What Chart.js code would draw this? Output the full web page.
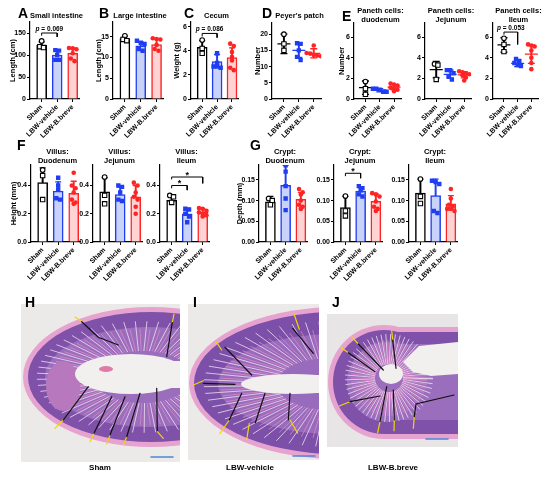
<!DOCTYPE html>
<html>
<head>
<meta charset="utf-8">
<script src="https://cdn.jsdelivr.net/npm/chart.js@4.4.1/dist/chart.umd.min.js"></script>
<style>
  body { margin: 0; background: #fff; }
  #fig { position: relative; width: 550px; height: 480px; overflow: hidden; font-family: "Liberation Sans", Arial, sans-serif; }
  #fig canvas { position: absolute; }
  .lbl { position: absolute; font-weight: bold; color: #000; white-space: nowrap; }
  .letter { font-size: 14px; line-height: 14px; }
  .ttl { font-size: 7.5px; line-height: 9px; text-align: center; transform: translateX(-50%); }
  .cap { font-size: 8px; line-height: 8px; transform: translateX(-50%); }
</style>
</head>
<body>
<div id="fig"></div>
<script>
const groups = ['Sham', 'LBW-vehicle', 'LBW-B.breve'];

// A - small intestine length (cm)
const siSham = [132, 119, 117];
const siVehicle = [111, 110, 100, 89, 89];
const siBreve = [116, 115, 113, 104, 92, 86];
const siMean = [122, 100, 104];
const siSD = [8, 10, 12];
const siTicks = [0, 50, 100, 150];
const siSig = [[0, 1, 150, 144, 141, 'p = 0.069']];

// B - large intestine length (cm)
const liSham = [15.2, 14.3, 14.0];
const liVehicle = [14.0, 13.5, 13.2, 12.0, 11.6];
const liBreve = [14.6, 14.4, 14.3, 13.0, 12.0, 11.6];
const liMean = [14.5, 12.8, 13.1];
const liSD = [0.6, 0.9, 1.3];
const liTicks = [0, 5, 10, 15];

// C - cecum weight (g)
const ceSham = [4.9, 4.2, 3.8];
const ceVehicle = [3.8, 3.0, 2.7, 2.7, 2.6];
const ceBreve = [4.6, 4.4, 3.9, 3.5, 3.2, 2.6, 2.4];
const ceMean = [4.3, 3.1, 3.45];
const ceSD = [0.55, 0.6, 0.8];
const ceTicks = [0, 2, 4, 6];
const ceSig = [[0, 1, 5.45, 5.2, 5.1, 'p = 0.086']];

// D - Peyer's patch number
const ppSham = [20, 17, 15];
const ppVehicle = [17.2, 17, 15, 13, 12];
const ppBreve = [16.5, 14.2, 14, 13.6, 13.4, 13.2];
const ppMean = [17, 15, 14.1];
const ppSD = [3, 2.2, 1.4];
const ppTicks = [0, 5, 10, 15, 20];

// E - Paneth cells
const pdSham = [1.7, 1.0, 0.45];
const pdVehicle = [1.0, 1.0, 0.9, 0.7, 0.7];
const pdBreve = [1.5, 1.4, 1.3, 1.1, 1.0, 0.9, 0.75];
const pdMean = [1.1, 0.85, 1.15];
const pdSD = [0.65, 0.15, 0.25];
const pjSham = [3.4, 3.3, 1.9];
const pjVehicle = [2.8, 2.8, 2.5, 2.2, 1.9];
const pjBreve = [2.7, 2.6, 2.5, 2.4, 2.3, 2.1, 1.8];
const pjMean = [2.85, 2.4, 2.35];
const pjSD = [0.8, 0.4, 0.3];
const piSham = [5.9, 5.3, 4.6];
const piVehicle = [3.9, 3.7, 3.5, 3.3, 3.2];
const piBreve = [5.3, 5.2, 5.1, 4.7, 4.0, 3.5, 2.9];
const piMean = [5.25, 3.45, 4.35];
const piSD = [0.7, 0.3, 0.9];
const piSig = [[0, 1, 6.5, 6.25, 5.3, 'p = 0.053']];
const paTicks = [0, 2, 4, 6];

// F - villus height (mm)
const vdSham = [0.51, 0.47, 0.30];
const vdVehicle = [0.455, 0.40, 0.37, 0.31, 0.30];
const vdBreve = [0.49, 0.40, 0.38, 0.35, 0.30, 0.28, 0.27];
const vdMean = [0.42, 0.36, 0.345];
const vdSD = [0.105, 0.065, 0.085];
const vjSham = [0.46, 0.33, 0.27];
const vjVehicle = [0.40, 0.39, 0.35, 0.30, 0.29];
const vjBreve = [0.42, 0.40, 0.35, 0.32, 0.30, 0.25, 0.20];
const vjMean = [0.355, 0.335, 0.32];
const vjSD = [0.1, 0.055, 0.08];
const viSham = [0.33, 0.32, 0.28];
const viVehicle = [0.235, 0.23, 0.20, 0.18, 0.14];
const viBreve = [0.24, 0.235, 0.22, 0.21, 0.20, 0.19, 0.18];
const viMean = [0.295, 0.20, 0.21];
const viSD = [0.028, 0.038, 0.022];
const viSig = [[0, 1, 0.40, 0.38, 0.367, '*'], [0, 2, 0.46, 0.443, 0.415, '*']];
const vTicks = [0, 0.2, 0.4];

// G - crypt depth (mm)
const cdSham = [0.105, 0.10, 0.09];
const cdVehicle = [0.185, 0.17, 0.135, 0.105, 0.077];
const cdBreve = [0.128, 0.12, 0.115, 0.10, 0.09, 0.085, 0.08];
const cdMean = [0.097, 0.137, 0.103];
const cdSD = [0.013, 0.048, 0.017];
const cjSham = [0.111, 0.075, 0.063];
const cjVehicle = [0.135, 0.13, 0.125, 0.115, 0.11];
const cjBreve = [0.118, 0.115, 0.11, 0.098, 0.085, 0.08, 0.075];
const cjMean = [0.083, 0.123, 0.098];
const cjSD = [0.027, 0.01, 0.018];
const cjSig = [[0, 1, 0.166, 0.159, 0.154, '*']];
const ciSham = [0.152, 0.11, 0.093];
const ciVehicle = [0.148, 0.145, 0.14, 0.075, 0.07];
const ciBreve = [0.128, 0.105, 0.09, 0.085, 0.08, 0.08, 0.075];
const ciMean = [0.118, 0.112, 0.092];
const ciSD = [0.034, 0.04, 0.02];
const cTicks = [0, 0.05, 0.10, 0.15];

const FONT = '"Liberation Sans", Arial, sans-serif';
const LINE = ['#000000', '#1f3df2', '#ff2424'];
const FILL = ['#ffffff', '#c9d2f8', '#ffd3d3'];
const fig = document.getElementById('fig');

function label(cls, text, x, y) {
  const d = document.createElement('div');
  d.className = 'lbl ' + cls;
  d.style.left = x + 'px';
  d.style.top = y + 'px';
  d.innerHTML = text;
  fig.appendChild(d);
}

// side-by-side offsets for points of similar value (scatter dot plot look)
function spread(vals, range) {
  const thr = range * 0.045;
  const idx = vals.map((v, i) => i).sort((a, b) => vals[b] - vals[a]);
  const off = vals.map(() => 0);
  let i = 0;
  while (i < idx.length) {
    let j = i + 1;
    while (j < idx.length && vals[idx[i]] - vals[idx[j]] < thr) j++;
    const n = j - i;
    for (let k = 0; k < n; k++) off[idx[i + k]] = (k - (n - 1) / 2) * 0.24;
    i = j;
  }
  return off;
}

const sigPlugin = {
  id: 'sig',
  afterDatasetsDraw(chart, args, opts) {
    const list = opts.list || [];
    const { ctx } = chart;
    const x = chart.scales.x, y = chart.scales.y;
    ctx.save();
    ctx.fillStyle = '#000';
    ctx.textBaseline = 'bottom';
    list.forEach(s => {
      const xm = (x.getPixelForValue(s[0]) + x.getPixelForValue(s[1])) / 2;
      const yp = y.getPixelForValue(s[2]) - 1;
      if (s[5] === '*') {
        ctx.textAlign = 'center';
        ctx.font = 'bold 9px ' + FONT;
        ctx.fillText('*', xm, yp + 4);
      } else {
        const rest = s[5].slice(1);
        ctx.font = 'italic bold 6.5px ' + FONT;
        const wp = ctx.measureText('p').width;
        ctx.font = 'bold 6.5px ' + FONT;
        const wr = ctx.measureText(rest).width;
        const x0 = xm - (wp + wr) / 2;
        ctx.textAlign = 'left';
        ctx.font = 'italic bold 6.5px ' + FONT;
        ctx.fillText('p', x0, yp);
        ctx.font = 'bold 6.5px ' + FONT;
        ctx.fillText(rest, x0 + wp, yp);
      }
    });
    ctx.restore();
  }
};

function panel(o) {
  const [left, right, top, bottom] = o.box;
  const padTop = 7, padRight = 4, xH = 40;
  const cLeft = o.yTitle ? Math.round(o.titleX - 4.5) : left - 18;
  const yW = left - cLeft;
  const W = yW + (right - left) + padRight;
  const H = padTop + (bottom - top) + xH;
  const cv = document.createElement('canvas');
  cv.width = W; cv.height = H;
  cv.style.left = cLeft + 'px';
  cv.style.top = (top - padTop) + 'px';
  cv.style.width = W + 'px';
  cv.style.height = H + 'px';
  fig.appendChild(cv);

  const ds = [];
  o.pts.forEach((vals, g) => {
    const off = spread(vals, o.yMax);
    const styles = vals.map((v, i) => g === 0 ? (i === 0 ? 'circle' : 'rect') : (g === 1 ? 'rect' : 'circle'));
    ds.push({
      type: 'scatter', order: 0,
      data: vals.map((v, i) => ({ x: g + off[i], y: v })),
      pointStyle: styles,
      pointRadius: styles.map(s => s === 'rect' ? 3.1 : 2.3),
      pointBackgroundColor: g === 0 ? '#ffffff' : LINE[g],
      pointBorderColor: LINE[g],
      pointBorderWidth: g === 0 ? 1.1 : 0
    });
  });
  const hi = o.mean.map((m, g) => m + o.sd[g]);
  const lo = o.mean.map((m, g) => o.bars ? m : m - o.sd[g]);
  ds.push({
    type: 'scatter', order: 1,
    data: hi.map((v, g) => ({ x: g, y: v })),
    pointStyle: 'line', pointRadius: o.bars ? 3 : 3.5,
    pointBorderColor: LINE, pointBorderWidth: 1.3
  });
  if (!o.bars) {
    ds.push({
      type: 'scatter', order: 1,
      data: lo.map((v, g) => ({ x: g, y: v })),
      pointStyle: 'line', pointRadius: 3.5,
      pointBorderColor: LINE, pointBorderWidth: 1.3
    });
    ds.push({
      type: 'scatter', order: 1,
      data: o.mean.map((v, g) => ({ x: g, y: v })),
      pointStyle: 'line', pointRadius: 6.5,
      pointBorderColor: LINE, pointBorderWidth: 1.3
    });
  }
  ds.push({
    type: 'bar', order: 2, grouped: false, barThickness: 1.3,
    data: o.mean.map((m, g) => ({ x: g, y: [lo[g], hi[g]] })),
    backgroundColor: LINE, borderWidth: 0
  });
  if (o.bars) {
    ds.push({
      type: 'bar', order: 3, grouped: false, barThickness: 10,
      data: o.mean.map((m, g) => ({ x: g, y: m })),
      backgroundColor: FILL, borderColor: LINE, borderWidth: 1.5
    });
  }
  (o.sig || []).forEach(s => {
    ds.push({
      type: 'line', order: 0,
      data: [{ x: s[0], y: s[3] }, { x: s[0], y: s[2] }, { x: s[1], y: s[2] }, { x: s[1], y: s[4] }],
      borderColor: '#000', borderWidth: 1, pointRadius: 0, fill: false, tension: 0
    });
  });

  const tickFont = { family: FONT, size: 7, weight: 'bold' };
  new Chart(cv.getContext('2d'), {
    type: 'bar',
    data: { datasets: ds },
    options: {
      responsive: false,
      animation: false,
      events: [],
      layout: { padding: { top: padTop, right: padRight, left: 0, bottom: 0 } },
      plugins: { legend: { display: false }, tooltip: { enabled: false }, sig: { list: o.sig } },
      scales: {
        x: {
          type: 'linear', min: o.bars ? -0.75 : -0.8, max: o.bars ? 2.45 : 2.5, offset: false,
          afterBuildTicks: s => { s.ticks = [0, 1, 2].map(v => ({ value: v })); },
          afterFit: s => { s.height = xH; },
          grid: { display: true, drawOnChartArea: false, drawTicks: true, tickLength: 3, color: '#000', lineWidth: 1, offset: false },
          border: { display: true, color: '#000', width: 1.2 },
          ticks: { autoSkip: false, minRotation: 45, maxRotation: 45, padding: 1, color: '#000', font: tickFont,
                   callback: v => groups[v] }
        },
        y: {
          type: 'linear', min: 0, max: o.yMax,
          afterBuildTicks: s => { s.ticks = o.ticks.map(v => ({ value: v })); },
          afterFit: s => { s.width = yW; },
          grid: { display: true, drawOnChartArea: false, drawTicks: true, tickLength: 3, color: '#000', lineWidth: 1 },
          border: { display: true, color: '#000', width: 1.2 },
          ticks: { padding: 1, color: '#000', font: tickFont, callback: v => v.toFixed(o.dec) },
          title: { display: !!o.yTitle, text: o.yTitle || '', color: '#000', padding: 0,
                   font: { family: FONT, size: 7.5, weight: 'bold' } }
        }
      }
    },
    plugins: [sigPlugin]
  });

  // panel title above the plot
  label('ttl', o.title, (left + right) / 2 + 1, o.titleY);
}

const topRow = [22, 99], midRow = [165, 242];
const PANELS = [
  { box: [30, 81, ...topRow], titleX: 12, yTitle: 'Length (cm)', yMax: 175, dec: 0, ticks: siTicks,
    pts: [siSham, siVehicle, siBreve], mean: siMean, sd: siSD, sig: siSig, bars: true, title: 'Small intestine', titleY: 11 },
  { box: [113, 165, ...topRow], titleX: 98, yTitle: 'Length (cm)', yMax: 18.5, dec: 0, ticks: liTicks,
    pts: [liSham, liVehicle, liBreve], mean: liMean, sd: liSD, bars: true, title: 'Large intestine', titleY: 11 },
  { box: [191, 240, ...topRow], titleX: 176, yTitle: 'Weight (g)', yMax: 6.4, dec: 0, ticks: ceTicks,
    pts: [ceSham, ceVehicle, ceBreve], mean: ceMean, sd: ceSD, sig: ceSig, bars: true, title: 'Cecum', titleY: 11 },
  { box: [272, 325, ...topRow], titleX: 257, yTitle: 'Number', yMax: 23.5, dec: 0, ticks: ppTicks,
    pts: [ppSham, ppVehicle, ppBreve], mean: ppMean, sd: ppSD, bars: false, title: "Peyer's patch", titleY: 11 },
  { box: [354, 405, ...topRow], titleX: 341, yTitle: 'Number', yMax: 7.4, dec: 0, ticks: paTicks,
    pts: [pdSham, pdVehicle, pdBreve], mean: pdMean, sd: pdSD, bars: false, title: 'Paneth cells:<br>duodenum', titleY: 5.5 },
  { box: [425, 475, ...topRow], yMax: 7.4, dec: 0, ticks: paTicks,
    pts: [pjSham, pjVehicle, pjBreve], mean: pjMean, sd: pjSD, bars: false, title: 'Paneth cells:<br>Jejunum', titleY: 5.5 },
  { box: [493, 542, ...topRow], yMax: 7.4, dec: 0, ticks: paTicks,
    pts: [piSham, piVehicle, piBreve], mean: piMean, sd: piSD, sig: piSig, bars: false, title: 'Paneth cells:<br>Ileum', titleY: 5.5 },
  { box: [31, 82, ...midRow], titleX: 13, yTitle: 'Height (mm)', yMax: 0.545, dec: 1, ticks: vTicks,
    pts: [vdSham, vdVehicle, vdBreve], mean: vdMean, sd: vdSD, bars: true, title: 'Villus:<br>Duodenum', titleY: 146.5 },
  { box: [93, 144, ...midRow], yMax: 0.545, dec: 1, ticks: vTicks,
    pts: [vjSham, vjVehicle, vjBreve], mean: vjMean, sd: vjSD, bars: true, title: 'Villus:<br>Jejunum', titleY: 146.5 },
  { box: [160, 211, ...midRow], yMax: 0.545, dec: 1, ticks: vTicks,
    pts: [viSham, viVehicle, viBreve], mean: viMean, sd: viSD, sig: viSig, bars: true, title: 'Villus:<br>Ileum', titleY: 146.5 },
  { box: [259, 309, ...midRow], titleX: 239, yTitle: 'Depth (mm)', yMax: 0.186, dec: 2, ticks: cTicks,
    pts: [cdSham, cdVehicle, cdBreve], mean: cdMean, sd: cdSD, bars: true, title: 'Crypt:<br>Duodenum', titleY: 146.5 },
  { box: [334, 384, ...midRow], yMax: 0.186, dec: 2, ticks: cTicks,
    pts: [cjSham, cjVehicle, cjBreve], mean: cjMean, sd: cjSD, sig: cjSig, bars: true, title: 'Crypt:<br>Jejunum', titleY: 146.5 },
  { box: [409, 459, ...midRow], yMax: 0.186, dec: 2, ticks: cTicks,
    pts: [ciSham, ciVehicle, ciBreve], mean: ciMean, sd: ciSD, bars: true, title: 'Crypt:<br>Ileum', titleY: 146.5 }
];
PANELS.forEach(panel);

// panel letters
[['A', 18, 6], ['B', 99, 6], ['C', 184, 6], ['D', 262, 6], ['E', 342, 9], ['F', 17, 138], ['G', 250, 138]]
  .forEach(l => label('letter', l[0], l[1], l[2]));

// ---- H&E micrographs (drawn approximations) ----
function micro(x, y, w, h, bg, paint, lines, bar) {
  const cv = document.createElement('canvas');
  cv.width = w; cv.height = h;
  cv.style.left = x + 'px'; cv.style.top = y + 'px';
  fig.appendChild(cv);
  const c = cv.getContext('2d');
  c.fillStyle = bg; c.fillRect(0, 0, w, h);
  paint(c);
  c.lineCap = 'round';
  lines.forEach(l => {
    c.strokeStyle = l[0]; c.lineWidth = 1.2;
    c.beginPath(); c.moveTo(l[1], l[2]);
    for (let i = 3; i < l.length; i += 2) c.lineTo(l[i], l[i + 1]);
    c.stroke();
  });
  c.strokeStyle = '#4d86d6'; c.lineWidth = 1.6;
  c.beginPath(); c.moveTo(bar[0], bar[2]); c.lineTo(bar[1], bar[2]); c.stroke();
}

function ell(c, cx, cy, rx, ry, col) {
  c.fillStyle = col; c.beginPath(); c.ellipse(cx, cy, rx, ry, 0, 0, Math.PI * 2); c.fill();
}

// villus texture: thin pale gaps and pink cores radiating from the lumen
function villi(c, cx, cy, rx, ry, s0, s1, skip) {
  c.lineWidth = 1;
  for (let a = 0; a < Math.PI * 2; a += 0.11) {
    if (Math.abs(Math.atan2(Math.sin(a), Math.cos(a))) < skip) continue;
    c.strokeStyle = 'rgba(244,232,244,0.75)';
    c.beginPath();
    c.moveTo(cx + rx * s0 * Math.cos(a), cy + ry * s0 * Math.sin(a));
    c.lineTo(cx + rx * s1 * Math.cos(a + 0.02), cy + ry * s1 * Math.sin(a + 0.02));
    c.stroke();
    c.strokeStyle = 'rgba(226,140,196,0.7)';
    c.beginPath();
    c.moveTo(cx + rx * s0 * Math.cos(a + 0.055), cy + ry * s0 * Math.sin(a + 0.055));
    c.lineTo(cx + rx * (s1 - 0.12) * Math.cos(a + 0.06), cy + ry * (s1 - 0.12) * Math.sin(a + 0.06));
    c.stroke();
  }
}

const K = '#111111', Y = '#f2d600';
micro(21, 304, 159, 158, '#ece9e9', c => {
  ell(c, 130, 73, 128, 70, '#e7a3d0');
  ell(c, 130, 73, 123, 65, '#7f51a9');
  ell(c, 128, 73, 104, 50, '#9b6dbd');
  villi(c, 122, 73, 118, 62, 0.42, 0.9, 0.3);
  ell(c, 42, 82, 17, 25, '#b778bd');
  ell(c, 110, 70, 56, 20, '#f2efef');
  c.fillStyle = '#f2efef'; c.fillRect(110, 57, 50, 27);
  ell(c, 85, 65, 7, 3, '#e07aa8');
}, [
  [Y, 54, 13, 60.7, 17.7], [K, 60.7, 17.7, 77.3, 33.3, 97.3, 41],
  [Y, 153, 10, 151.3, 18.7], [K, 151.3, 18.7, 145.7, 52.7],
  [Y, 34, 124.3, 42.3, 116], [K, 42.3, 116, 67.3, 82.7],
  [Y, 69, 137.7, 73, 129.3], [K, 73, 129.3, 90.7, 92.7],
  [Y, 85.7, 140, 89, 131], [K, 89, 131, 104, 92.7],
  [Y, 102.3, 141, 105.7, 132.7], [K, 105.7, 132.7, 119, 89.3],
  [K, 135.7, 84.3, 136.3, 127.7], [Y, 136.3, 127.7, 142.3, 134.3]
], [130, 152, 153]);

micro(188, 304, 131, 156, '#ece9e9', c => {
  ell(c, 150, 79, 149, 76, '#e7a3d0');
  ell(c, 150, 79, 144, 71, '#7c4fa8');
  ell(c, 146, 80, 116, 50, '#996bbc');
  villi(c, 140, 80, 135, 68, 0.38, 0.92, 0.2);
  ell(c, 105, 80, 52, 10, '#f2efef');
  c.fillStyle = '#f2efef'; c.fillRect(105, 71, 30, 18);
}, [
  [Y, 106, 10, 111.3, 25.3], [K, 104.7, 24.3, 125.3, 49.3],
  [Y, 28, 37.7, 33.7, 46], [K, 37, 43.3, 63.7, 71],
  [Y, 5.3, 81, 15.3, 76.7], [K, 15.3, 79.3, 47, 80.3],
  [Y, 32, 129.3, 41.3, 116], [K, 41.3, 116, 53.7, 89.3],
  [Y, 58.7, 135.3, 61.3, 119.3], [K, 67.3, 118.7, 77, 89.3],
  [K, 102, 89.3, 100.3, 116], [Y, 102, 116, 109.7, 129.3]
], [105, 127, 152]);

micro(327, 314, 131, 133, '#e7e5e5', c => {
  ell(c, 57, 68, 56, 57, '#e7a3d0');
  c.fillStyle = '#e7a3d0'; c.fillRect(57, 13, 74, 112);
  ell(c, 57, 68, 51, 52, '#7f51a9');
  c.fillStyle = '#7f51a9'; c.fillRect(57, 18, 74, 102);
  ell(c, 60, 68, 40, 40, '#9b6dbd');
  c.fillStyle = '#9b6dbd'; c.fillRect(60, 30, 71, 76);
  villi(c, 62, 64, 50, 50, 0.28, 0.88, 0);
  ell(c, 64, 60, 12, 10, '#f2efef');
  c.fillStyle = '#f2efef';
  c.beginPath(); c.moveTo(76, 48); c.lineTo(92, 32); c.lineTo(131, 28); c.lineTo(131, 60);
  c.lineTo(104, 62); c.lineTo(86, 58); c.closePath(); c.fill();
}, [
  [Y, 24.7, 22.7, 31.3, 30], [K, 31.3, 30, 56.3, 56],
  [Y, 13.7, 33.3, 21.3, 38.7], [K, 21.3, 38.7, 48, 57.7],
  [Y, 64.7, 16.7, 65.7, 26], [K, 65.7, 26, 69, 54.3],
  [Y, 12.3, 92, 23, 87.7], [K, 23, 87.7, 53, 82],
  [Y, 50.7, 118.7, 53, 107.7], [K, 53, 107.7, 59.7, 72.7],
  [Y, 67, 116.7, 67.3, 106], [K, 67.3, 106, 66.3, 76],
  [Y, 86.3, 114.3, 87.3, 102.7], [K, 87.3, 102.7, 89, 90, 127, 81]
], [99, 121, 125]);

[['H', 25, 295], ['I', 193, 295], ['J', 332, 295]].forEach(l => {
  label('letter', l[0], l[1], l[2]);
});
[['Sham', 100], ['LBW-vehicle', 250], ['LBW-B.breve', 393]].forEach(cp => label('cap', cp[0], cp[1], 464));
</script>
</body>
</html>
